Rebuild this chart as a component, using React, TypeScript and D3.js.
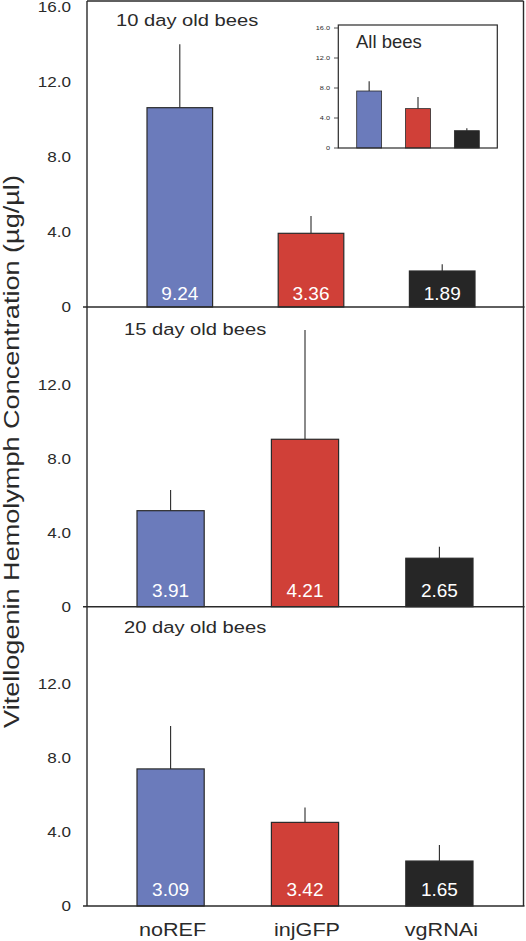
import React from "react";
import * as d3 from "d3";

const categories = ["noREF", "injGFP", "vgRNAi"];
const panelTitles = ["10 day old bees", "15 day old bees", "20 day old bees"];
const means10 = [10.63, 3.93, 1.92];
const errs10 = [3.38, 0.92, 0.36];
const labels10 = ["9.24", "3.36", "1.89"];
const means15 = [5.19, 9.05, 2.62];
const errs15 = [1.12, 5.91, 0.62];
const labels15 = ["3.91", "4.21", "2.65"];
const means20 = [7.41, 4.52, 2.43];
const errs20 = [2.32, 0.81, 0.87];
const labels20 = ["3.09", "3.42", "1.65"];
const meansAll = [7.6, 5.25, 2.31];
const errsAll = [1.3, 1.55, 0.33];
const tickValuesTop = [0, 4, 8, 12, 16];
const tickValuesLower = [0, 4, 8, 12];
const yTitle = "Vitellogenin Hemolymph Concentration (µg/µl)";
const insetTitle = "All bees";

const COLORS = ["#6b7bbb", "#d04038", "#262626"];
const INK = "#2a2a2a";
const FONT = "'Liberation Sans', Arial, Helvetica, sans-serif";
const fmt = (v: number) => (v === 0 ? "0" : d3.format(".1f")(v));

const panels = [
  { means: means10, errs: errs10, labels: labels10, title: panelTitles[0], ticks: tickValuesTop, y0: 307, y1: 7, xr: [147, 475], tx: 116, ty: 26 },
  { means: means15, errs: errs15, labels: labels15, title: panelTitles[1], ticks: tickValuesLower, y0: 606.7, y1: 310.7, xr: [137, 473], tx: 124, ty: 335 },
  { means: means20, errs: errs20, labels: labels20, title: panelTitles[2], ticks: tickValuesLower, y0: 906, y1: 610, xr: [137, 473], tx: 124, ty: 633 },
];

function SText({ x, y, sx = 1, rot = 0, size, anchor = "start", fill = INK, baseline, children }: any) {
  const t = `translate(${x},${y})${rot ? ` rotate(${rot})` : ""} scale(${sx},1)`;
  return (
    <text transform={t} fontSize={size} fontFamily={FONT} textAnchor={anchor} fill={fill} dominantBaseline={baseline}>
      {children}
    </text>
  );
}

export default function App() {
  const AX = 87;
  const RX = 523.5;
  const TOP = 1;
  const BOT = 906;

  const insetX = d3.scaleBand().domain(categories).range([356.7, 479.3]).paddingInner(0.49).paddingOuter(0);
  const insetY = d3.scaleLinear().domain([0, 16]).range([148, 28]);

  return (
    <svg width={526} height={941} style={{ position: "absolute", left: 0, top: 0, background: "#fff" }}>
      <rect x={0} y={0} width={526} height={941} fill="#fff" />
      {panels.map((p, pi) => {
        const x = d3.scaleBand().domain(categories).range(p.xr as [number, number]).paddingInner(0.5).paddingOuter(0);
        const y = d3.scaleLinear().domain([0, 16]).range([p.y0, p.y1]);
        return (
          <g key={pi}>
            {p.ticks.map((t) => (
              <SText key={t} x={71} y={y(t)} sx={1.22} size={14} anchor="end" baseline="central">
                {fmt(t)}
              </SText>
            ))}
            {categories.map((c, i) => {
              const bx = x(c)!;
              const bw = x.bandwidth();
              const cx = bx + bw / 2;
              return (
                <g key={c}>
                  <line x1={cx} x2={cx} y1={y(p.means[i])} y2={y(p.means[i] + p.errs[i])} stroke={INK} strokeWidth={1.1} />
                  <rect x={bx} y={y(p.means[i])} width={bw} height={y(0) - y(p.means[i])} fill={COLORS[i]} stroke={INK} strokeWidth={1.2} />
                  <SText x={cx} y={y(0) - (pi === 0 ? 7 : 10)} size={19} anchor="middle" fill="#fff">
                    {p.labels[i]}
                  </SText>
                </g>
              );
            })}
            <SText x={p.tx} y={p.ty} sx={1.2} size={16.8}>
              {p.title}
            </SText>
            <line x1={83} x2={RX + 1} y1={y(0)} y2={y(0)} stroke={INK} strokeWidth={1.4} />
          </g>
        );
      })}
      {/* frame */}
      <line x1={AX} x2={AX} y1={TOP} y2={BOT} stroke={INK} strokeWidth={1.4} />
      <line x1={RX} x2={RX} y1={TOP} y2={BOT} stroke={INK} strokeWidth={1.4} />
      <line x1={AX} x2={RX} y1={TOP} y2={TOP} stroke={INK} strokeWidth={1.4} />

      {/* inset */}
      <g>
        {tickValuesTop.map((t) => (
          <g key={t}>
            <line x1={334} x2={338.3} y1={insetY(t)} y2={insetY(t)} stroke={INK} strokeWidth={0.8} />
            <SText x={330} y={insetY(t)} sx={1.22} size={6} anchor="end" baseline="central">
              {fmt(t)}
            </SText>
          </g>
        ))}
        {categories.map((c, i) => {
          const bx = insetX(c)!;
          const bw = insetX.bandwidth();
          const cx = bx + bw / 2;
          return (
            <g key={c}>
              <line x1={cx} x2={cx} y1={insetY(meansAll[i])} y2={insetY(meansAll[i] + errsAll[i])} stroke={INK} strokeWidth={1.1} />
              <rect x={bx} y={insetY(meansAll[i])} width={bw} height={insetY(0) - insetY(meansAll[i])} fill={COLORS[i]} stroke={INK} strokeWidth={0.8} />
            </g>
          );
        })}
        <rect x={338.3} y={25} width={159} height={123} fill="none" stroke={INK} strokeWidth={1.2} />
        <SText x={356} y={48.3} size={18.5}>
          {insetTitle}
        </SText>
      </g>

      {/* category labels */}
      {(() => {
        const x = d3.scaleBand().domain(categories).range([137, 473]).paddingInner(0.5).paddingOuter(0);
        return categories.map((c) => (
          <SText key={c} x={x(c)! + x.bandwidth() / 2 + 2} y={936} sx={1.22} size={17.7} anchor="middle">
            {c}
          </SText>
        ));
      })()}

      {/* y title */}
      <SText x={19} y={451.5} rot={-90} sx={1.26} size={21.5} anchor="middle">
        {yTitle}
      </SText>
    </svg>
  );
}
